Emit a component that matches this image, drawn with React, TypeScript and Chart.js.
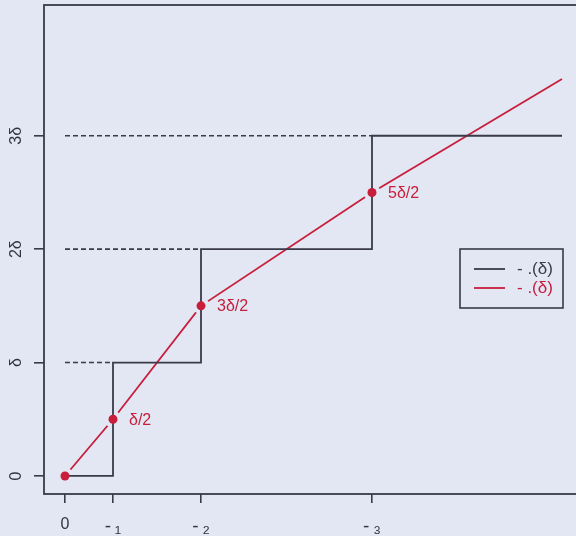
import React, { useEffect, useRef } from "react";
import { Chart, registerables } from "chart.js";

Chart.register(...registerables);

// ---- data ----
const arrivalTimes = [0, 0.48, 1.36, 3.07]; // 0, T1, T2, T3
const endTime = 4.97;
const counts = [0, 1, 2, 3]; // N(t) after each arrival
const endCount = 3;
const smoothValues = [0, 0.5, 1.5, 2.5]; // smoothed process at arrivals
const smoothEnd = 3.5;
const xTickLabels = ["0", "-\u2009\u2081", "-\u2009\u2082", "-\u2009\u2083"];
const yTickValues = [0, 1, 2, 3];
const yTickLabels = ["0", "\u03b4", "2\u03b4", "3\u03b4"];
const pointLabels = ["", "\u03b4/2", "3\u03b4/2", "5\u03b4/2"];
const legendLabels = ["- .(\u03b4)", "- .(\u03b4)"];

const BG = "#e2e7f3";
const DARK = "#3a3a48";
const RED = "#c81e3c";
const FONT = "'Liberation Sans', Arial, sans-serif";

export default function App() {
  const ref = useRef<HTMLCanvasElement | null>(null);

  useEffect(() => {
    if (!ref.current) return;

    const stepData = [
      ...arrivalTimes.map((t, i) => ({ x: t, y: counts[i] })),
      { x: endTime, y: endCount },
    ];
    const smoothData = [
      ...arrivalTimes.map((t, i) => ({ x: t, y: smoothValues[i] })),
      { x: endTime, y: smoothEnd },
    ];
    const pointData = arrivalTimes.map((t, i) => ({ x: t, y: smoothValues[i] }));
    const dashedSets = counts.slice(1).map((c, i) => ({
      label: "level" + c,
      data: [
        { x: 0, y: c },
        { x: arrivalTimes[i + 1], y: c },
      ],
      borderColor: DARK,
      borderWidth: 1.6,
      borderDash: [5, 3],
      pointRadius: 0,
      order: 5,
    }));

    const framePlugin = {
      id: "frame",
      beforeDraw(chart: any) {
        const { ctx, width, height } = chart;
        ctx.save();
        ctx.fillStyle = BG;
        ctx.fillRect(0, 0, width, height);
        ctx.restore();
      },
      beforeDatasetsDraw(chart: any) {
        const { ctx, chartArea } = chart;
        ctx.save();
        ctx.strokeStyle = DARK;
        ctx.lineWidth = 1.8;
        ctx.strokeRect(chartArea.left, chartArea.top, chartArea.right - chartArea.left, chartArea.bottom - chartArea.top);
        ctx.restore();
      },
      afterDatasetsDraw(chart: any) {
        const { ctx } = chart;
        const xs = chart.scales.x;
        const ys = chart.scales.y;
        ctx.save();
        ctx.fillStyle = RED;
        ctx.font = `16px ${FONT}`;
        ctx.textAlign = "left";
        ctx.textBaseline = "middle";
        pointLabels.forEach((lab, i) => {
          if (!lab) return;
          const px = xs.getPixelForValue(arrivalTimes[i]);
          const py = ys.getPixelForValue(smoothValues[i]);
          ctx.fillText(lab, px + 16, py + 1);
        });
        // legend
        const bx = 460, by = 249, bw = 103, bh = 59;
        ctx.strokeStyle = DARK;
        ctx.lineWidth = 1.6;
        ctx.strokeRect(bx, by, bw, bh);
        const colors = [DARK, RED];
        legendLabels.forEach((lab, i) => {
          const ly = by + 20 + i * 19;
          ctx.strokeStyle = colors[i];
          ctx.lineWidth = 1.8;
          ctx.beginPath();
          ctx.moveTo(bx + 14, ly);
          ctx.lineTo(bx + 45, ly);
          ctx.stroke();
          ctx.fillStyle = colors[i];
          ctx.font = `17px ${FONT}`;
          ctx.fillText(lab, bx + 57, ly);
        });
        ctx.restore();
      },
    };

    const chart = new Chart(ref.current, {
      type: "line",
      data: {
        datasets: [
          {
            label: "points",
            data: pointData,
            showLine: false,
            pointRadius: 4.5,
            pointBackgroundColor: RED,
            pointBorderWidth: 0,
            borderColor: RED,
            order: 0,
          } as any,
          {
            label: legendLabels[0],
            data: stepData,
            stepped: "before",
            borderColor: DARK,
            borderWidth: 1.8,
            pointRadius: 0,
            order: 1,
          } as any,
          {
            label: "gaps",
            data: pointData,
            showLine: false,
            pointRadius: 8.5,
            pointBackgroundColor: BG,
            pointBorderWidth: 0,
            order: 2,
          } as any,
          {
            label: legendLabels[1],
            data: smoothData,
            borderColor: RED,
            borderWidth: 1.8,
            pointRadius: 0,
            order: 3,
          } as any,
          ...(dashedSets as any[]),
        ],
      },
      options: {
        animation: false,
        responsive: false,
        events: [],
        layout: { autoPadding: false, padding: { top: 5, right: 10, left: 0, bottom: 0 } },
        plugins: { legend: { display: false }, tooltip: { enabled: false } },
        scales: {
          x: {
            type: "linear",
            min: -0.21,
            max: 5.25,
            afterFit: (s: any) => {
              s.height = 42;
              s.paddingLeft = 0;
              s.paddingRight = 0;
            },
            afterBuildTicks: (s: any) => {
              s.ticks = arrivalTimes.map((v) => ({ value: v }));
            },
            border: { display: false },
            grid: {
              drawOnChartArea: false,
              drawTicks: true,
              tickLength: 9,
              color: DARK,
              lineWidth: 1.6,
            },
            ticks: {
              autoSkip: false,
              maxRotation: 0,
              minRotation: 0,
              padding: 12,
              color: "#333340",
              font: (c: any) => ({ family: FONT, size: c.index === 0 ? 16 : 19 }),
              callback: (_v: any, i: number) => xTickLabels[i],
            },
          },
          y: {
            type: "linear",
            min: -0.159,
            max: 4.153,
            afterFit: (s: any) => {
              s.width = 44;
              s.paddingTop = 0;
              s.paddingBottom = 0;
            },
            afterBuildTicks: (s: any) => {
              s.ticks = yTickValues.map((v) => ({ value: v }));
            },
            border: { display: false },
            grid: {
              drawOnChartArea: false,
              drawTicks: true,
              tickLength: 10,
              color: DARK,
              lineWidth: 1.6,
            },
            ticks: {
              autoSkip: false,
              minRotation: 90,
              maxRotation: 90,
              crossAlign: "center",
              padding: 9,
              color: "#333340",
              font: { family: FONT, size: 16 },
              callback: (_v: any, i: number) => yTickLabels[i],
            },
          },
        },
      },
      plugins: [framePlugin],
    } as any);

    return () => chart.destroy();
  }, []);

  return (
    <div
      style={{
        position: "fixed",
        left: 0,
        top: 0,
        width: 576,
        height: 536,
        overflow: "hidden",
        background: BG,
      }}
    >
      <canvas ref={ref} width={600} height={536} style={{ display: "block" }} />
    </div>
  );
}
